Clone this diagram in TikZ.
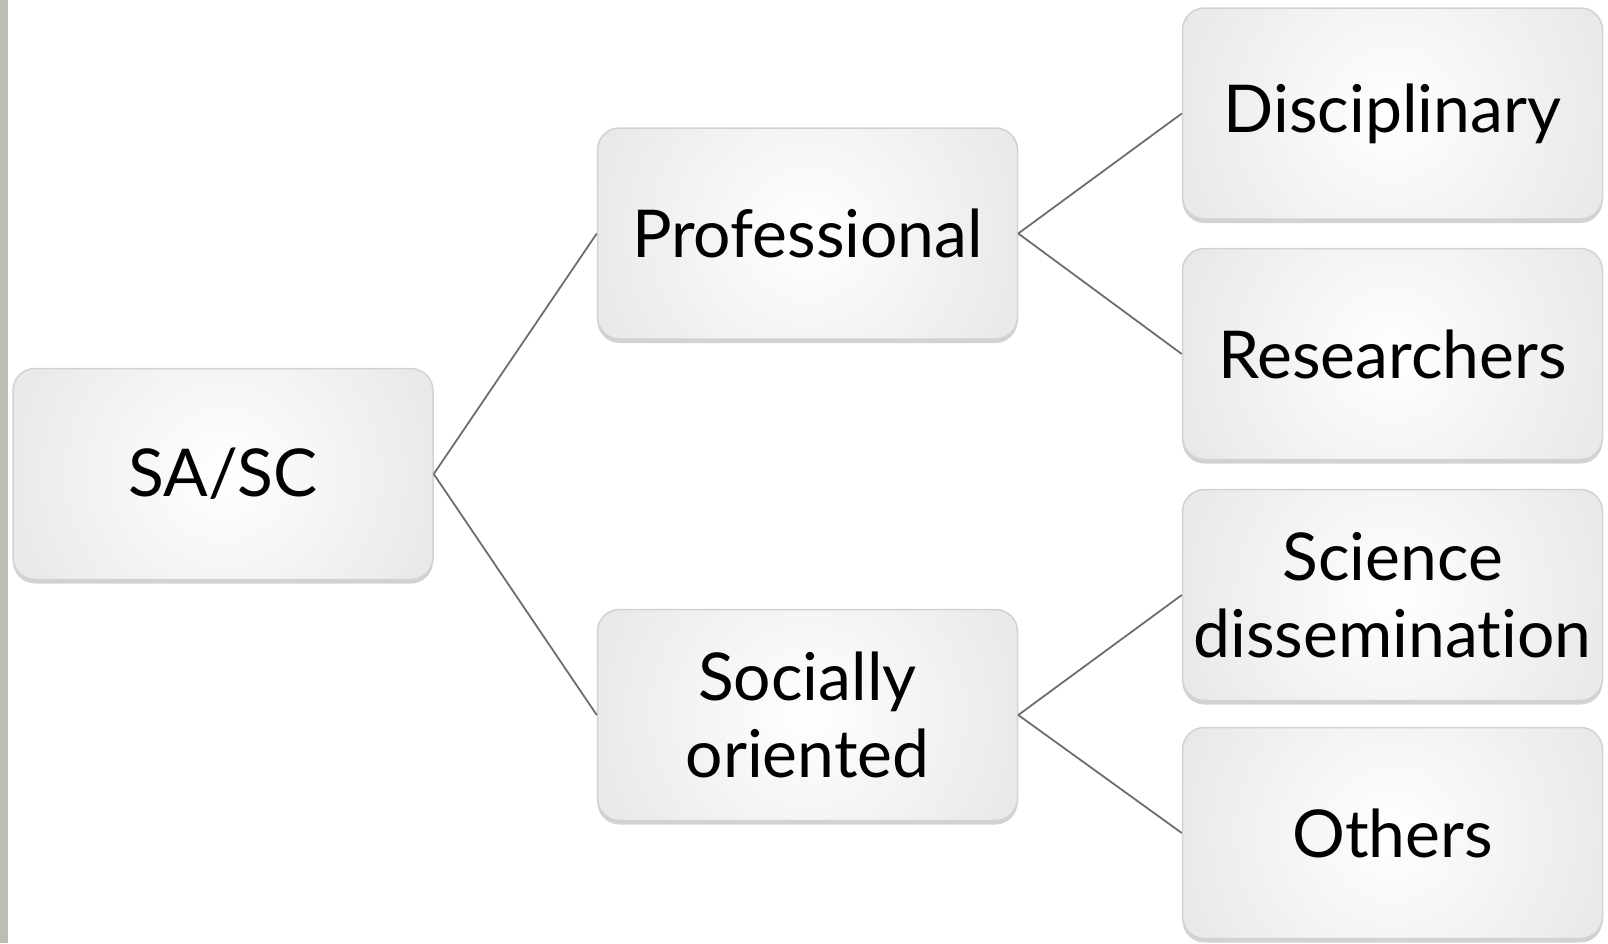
\documentclass[tikz,border=0pt]{standalone}
\usepackage{fontspec}
\setmainfont{Lato}[Ligatures=CommonOff]
\usetikzlibrary{shadows}
\definecolor{boxedge}{HTML}{D2D2D2}
\definecolor{boxout}{HTML}{D0D0D0}
\definecolor{linkgray}{HTML}{6E6E6E}
\definecolor{stripgray}{HTML}{BFBCB7}
\tikzset{
  box/.style={rounded corners=22pt, draw=boxedge, line width=1.5pt,
    fill=boxout,
    path picture={\shade[inner color=white, outer color=boxout]
      (path picture bounding box.center) circle (470pt);},
    minimum width=420pt, minimum height=211pt, align=center,
    font=\fontsize{66}{77}\selectfont, text=black,
    drop shadow={opacity=0.35, shadow xshift=0pt, shadow yshift=-4pt}},
  link/.style={draw=linkgray, line width=1.8pt}
}
\begin{document}
\begin{tikzpicture}[x=1pt,y=-1pt]
\useasboundingbox (0,0) rectangle (1608,943);
\fill[white] (0,0) rectangle (1608,943);
\fill[stripgray] (0,0) rectangle (8,943);
\node[box] (root) at (223,474) {SA/SC};
\node[box] (prof) at (807.5,233.5) {Professional};
\node[box] (soc) at (807.5,715) {Socially\\oriented};
\node[box] (disc) at (1392.5,113.5) {Disciplinary};
\node[box] (res) at (1392.5,354) {Researchers};
\node[box] (sci) at (1392.5,595) {Science\\dissemina\kern0pt tion};
\node[box] (oth) at (1392.5,833) {Others};
\draw[link] (root.east) -- (prof.west);
\draw[link] (root.east) -- (soc.west);
\draw[link] (prof.east) -- (disc.west);
\draw[link] (prof.east) -- (res.west);
\draw[link] (soc.east) -- (sci.west);
\draw[link] (soc.east) -- (oth.west);
\end{tikzpicture}
\end{document}
